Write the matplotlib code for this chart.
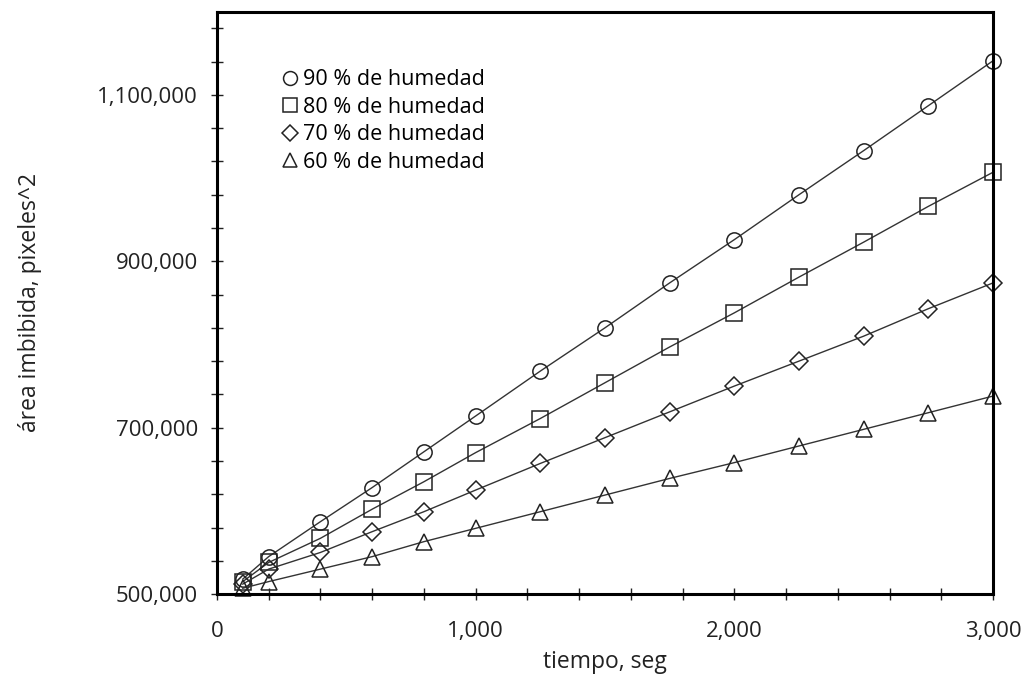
import numpy as np
import matplotlib.pyplot as plt
from matplotlib.lines import Line2D
from matplotlib.ticker import MultipleLocator, FuncFormatter

plt.rcParams['font.family'] = ['Open Sans', 'DejaVu Sans']

# ---------------- DATA ----------------
tiempo = [100, 200, 400, 600, 800, 1000, 1250, 1500, 1750, 2000, 2250, 2500, 2750, 3000]

h90 = [518000, 545000, 587000, 628000, 671000, 714000, 768000, 820000,
       874000, 926000, 980000, 1033000, 1087000, 1141000]
h80 = [515000, 538000, 567000, 602000, 635000, 670000, 711000, 754000,
       797000, 838000, 881000, 923000, 966000, 1007000]
h70 = [512000, 530000, 550000, 575000, 599000, 625000, 657000, 688000,
       719000, 750000, 780000, 810000, 843000, 874000]
h60 = [507000, 515000, 530000, 545000, 563000, 579000, 599000, 619000,
       639000, 658000, 678000, 698000, 718000, 738000]

series = [
    (h90, "o", "90 % de humedad"),
    (h80, "s", "80 % de humedad"),
    (h70, "D", "70 % de humedad"),
    (h60, "^", "60 % de humedad"),
]

y_major = [500000, 700000, 900000, 1100000]

# ---------------- PLOT ----------------
fig = plt.figure(figsize=(10.28, 6.86), dpi=100)
ax = fig.add_axes([0.211, 0.134, 0.755, 0.849])

handles = []
for vals, mk, lab in series:
    ms = 11 if mk != "D" else 9
    ax.plot(tiempo, vals, color="#333333", lw=1.0, marker=mk, ms=ms,
            mfc="none", mec="#222222", mew=1.1, clip_on=False)
    handles.append(Line2D([], [], ls="none", marker=mk, ms=ms - 1,
                          mfc="none", mec="#222222", mew=1.1, label=lab))

ax.set_xlim(0, 3000)
ax.set_ylim(500000, 1200000)

ax.xaxis.set_major_locator(MultipleLocator(1000))
ax.xaxis.set_minor_locator(MultipleLocator(200))
ax.set_yticks(y_major)
ax.set_yticks(np.arange(500000, 1200001, 40000), minor=True)

fmt = FuncFormatter(lambda v, p: f"{int(v):,}")
ax.xaxis.set_major_formatter(fmt)
ax.yaxis.set_major_formatter(fmt)

ax.tick_params(axis="both", which="both", direction="inout", length=9,
               width=1.0, labelsize=16, colors="#222222")
ax.tick_params(axis="x", which="major", pad=15)
ax.tick_params(axis="y", which="major", pad=9)

for sp in ax.spines.values():
    sp.set_linewidth(2.2)
    sp.set_color("black")

ax.set_xlabel("tiempo, seg", fontsize=16.5, color="#222222")
ax.set_ylabel("área imbibida, pixeles^2", fontsize=16.5, color="#222222")
ax.xaxis.set_label_coords(0.5, -0.096)
ax.yaxis.set_label_coords(-0.226, 0.5)

ax.legend(handles=handles, loc="upper left", bbox_to_anchor=(0.066, 0.923),
          frameon=False, fontsize=15.5, handlelength=0.8, handletextpad=0.2,
          labelspacing=0.3, borderpad=0.1)

fig.savefig("out.png", dpi=100)
plt.close(fig)
